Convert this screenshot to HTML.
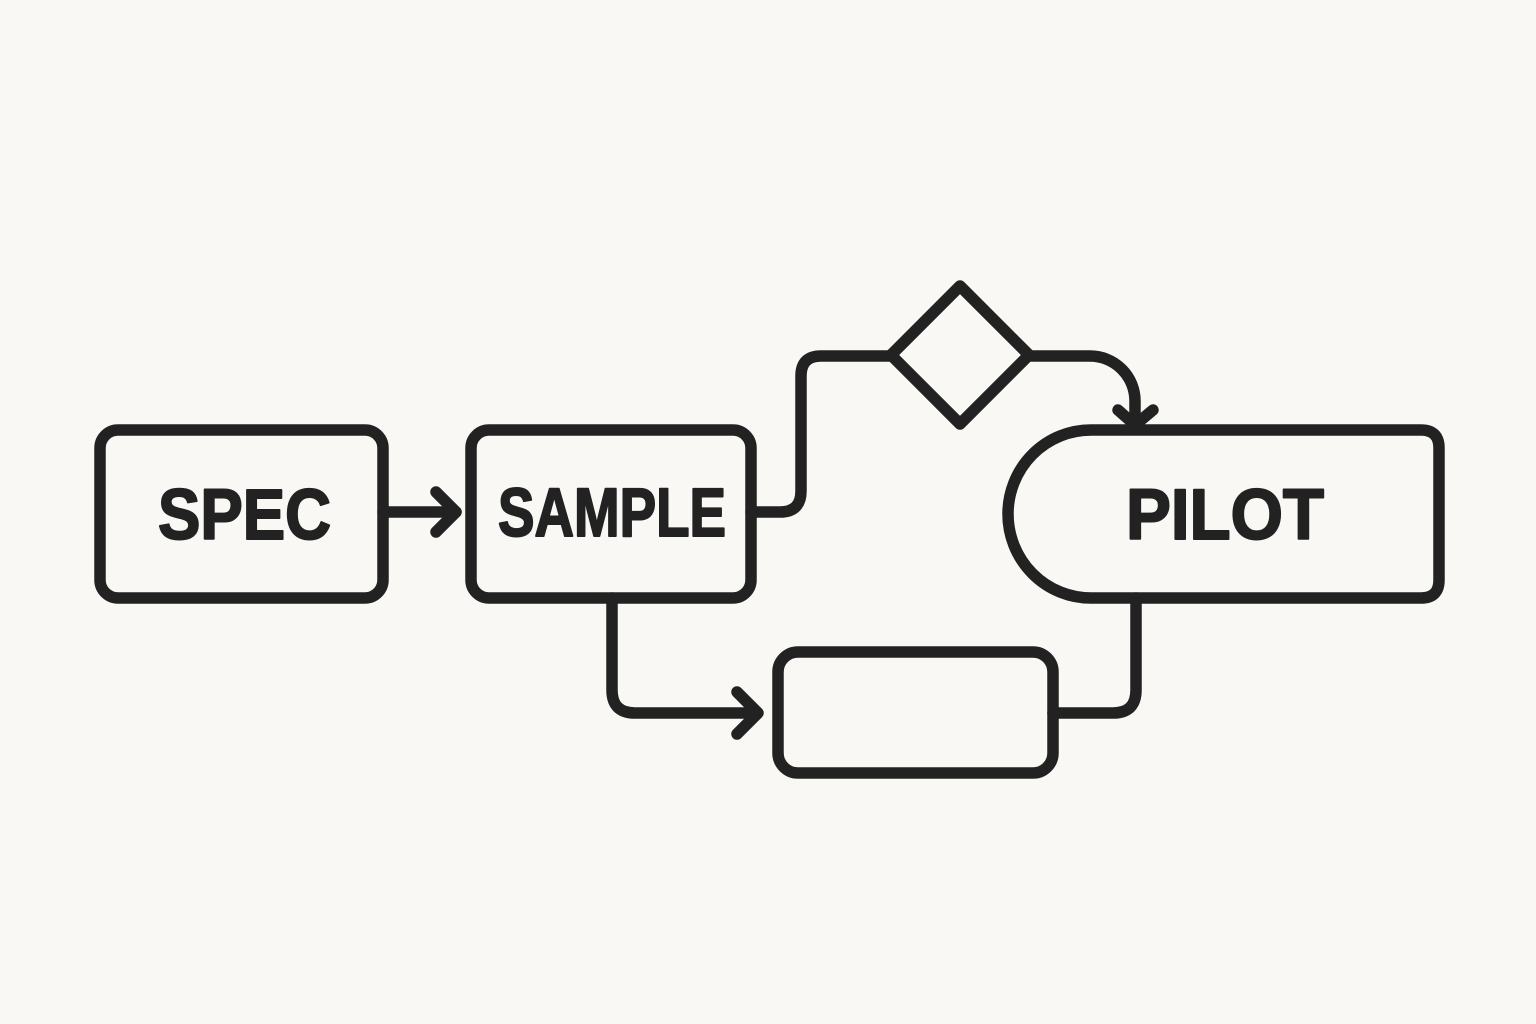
<!DOCTYPE html>
<html>
<head>
<meta charset="utf-8">
<style>
  html,body{margin:0;padding:0;background:#f9f8f5;}
  svg{display:block;}
  text{font-family:"Liberation Sans",sans-serif;font-weight:bold;fill:#222;stroke:#222;stroke-width:2;stroke-linejoin:round;}
</style>
</head>
<body>
<svg width="1536" height="1024" viewBox="0 0 1536 1024" xmlns="http://www.w3.org/2000/svg">
  <rect width="1536" height="1024" fill="#f9f8f5"/>
  <g fill="none" stroke="#222" stroke-width="11.5" stroke-linecap="round" stroke-linejoin="round">
    <!-- SPEC box -->
    <rect x="100" y="430" width="283" height="168" rx="18"/>
    <!-- SAMPLE box -->
    <rect x="471" y="430" width="280" height="168" rx="18"/>
    <!-- PILOT stadium-left box -->
    <path d="M1091,430 H1421 Q1439,430 1439,448 V580 Q1439,598 1421,598 H1091 A83,84 0 0 1 1091,430 Z"/>
    <!-- bottom box -->
    <rect x="778" y="652" width="275" height="121" rx="20"/>
    <!-- diamond -->
    <path d="M960,286 L1029,355 L960,424 L891,355 Z"/>

    <!-- SPEC -> SAMPLE arrow -->
    <path d="M383,512 H456"/>
    <path d="M436,492 L456,512 L436,532"/>

    <!-- SAMPLE -> diamond -->
    <path d="M751,512 H780 Q801,512 801,491 V376 Q801,356 821,356 H891"/>

    <!-- diamond -> PILOT -->
    <path d="M1029,356 H1090 A45,45 0 0 1 1135,401 V424"/>
    <path d="M1118,410 L1135,425 L1153,410"/>

    <!-- SAMPLE -> bottom box -->
    <path d="M612,598 V690 Q612,713 635,713 H757"/>
    <path d="M737,692 L758,713 L737,734"/>

    <!-- PILOT -> bottom box -->
    <path d="M1136,598 V690 Q1136,713 1113,713 H1053"/>
  </g>
  <text x="158" y="539" font-size="71" textLength="173" lengthAdjust="spacingAndGlyphs">SPEC</text>
  <text x="498" y="536" font-size="69" textLength="228" lengthAdjust="spacingAndGlyphs">SAMPLE</text>
  <text x="1126" y="539" font-size="71" textLength="198" lengthAdjust="spacingAndGlyphs">PILOT</text>
</svg>
</body>
</html>
